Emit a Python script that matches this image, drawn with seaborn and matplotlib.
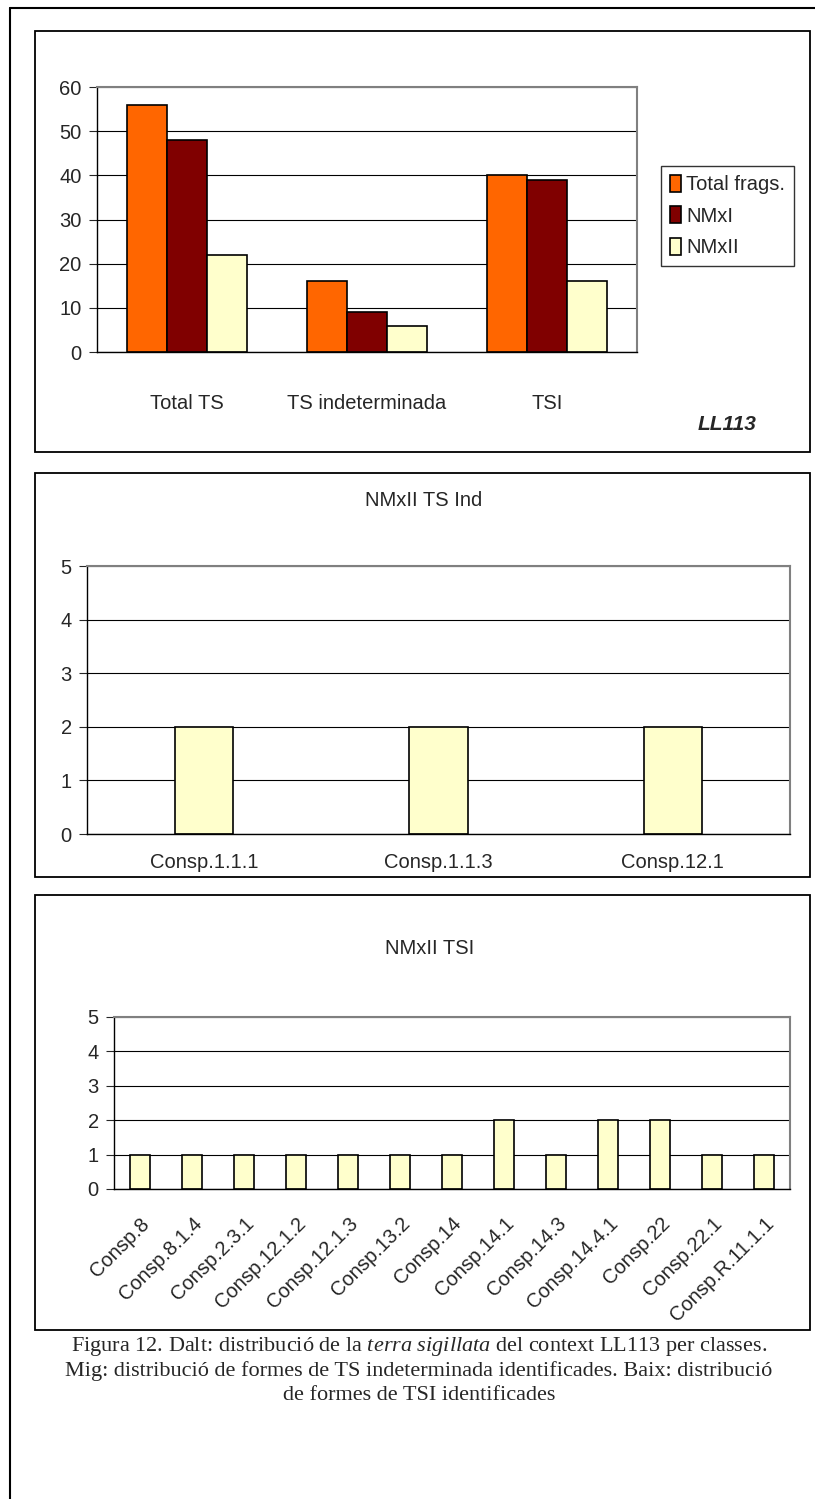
import matplotlib
matplotlib.use("Agg")
import matplotlib.pyplot as plt
from matplotlib.patches import Rectangle, Patch
from matplotlib.lines import Line2D
import pandas as pd
import seaborn as sns

# data
classes = ["Total TS", "TS indeterminada", "TSI"]
series = ["Total frags.", "NMxI", "NMxII"]
total_frags = [56, 16, 40]
nmx1 = [48, 9, 39]
nmx2 = [22, 6, 16]

ind_forms = ["Consp.1.1.1", "Consp.1.1.3", "Consp.12.1"]
ind_nmx2 = [2, 2, 2]

tsi_forms = ["Consp.8", "Consp.8.1.4", "Consp.2.3.1", "Consp.12.1.2", "Consp.12.1.3",
             "Consp.13.2", "Consp.14", "Consp.14.1", "Consp.14.3", "Consp.14.4.1",
             "Consp.22", "Consp.22.1", "Consp.R.11.1.1"]
tsi_nmx2 = [1, 1, 1, 1, 1, 1, 1, 2, 1, 2, 2, 1, 1]

colors = ["#FF6600", "#800000", "#FFFFCC"]

sns.set_style("white")
plt.rcParams["font.family"] = ["Liberation Sans", "DejaVu Sans"]
plt.rcParams["mathtext.fontset"] = "custom"
plt.rcParams["mathtext.rm"] = "Liberation Serif"
plt.rcParams["mathtext.it"] = "Liberation Serif:italic"

FS = 14.5

W, H = 815, 1499
fig = plt.figure(figsize=(W / 100, H / 100), dpi=100)


def px_axes(left, top, right, bottom):
    return fig.add_axes([left / W, 1 - bottom / H, (right - left) / W, (bottom - top) / H])


def panel_box(left, top, right, bottom):
    fig.add_artist(Rectangle((left / W, 1 - bottom / H), (right - left) / W, (bottom - top) / H,
                             transform=fig.transFigure, fill=False, ec="black", lw=1.3))


def excel_style(ax, n, ymax, step):
    ax.set_xlim(-0.5, n - 0.5)
    ax.set_ylim(0, ymax)
    ax.set_yticks(range(0, ymax + 1, step))
    ax.yaxis.grid(True, color="black", lw=0.8)
    ax.set_axisbelow(True)
    for s in ["left", "bottom"]:
        ax.spines[s].set_color("black")
        ax.spines[s].set_linewidth(1.0)
    for s in ["top", "right"]:
        ax.spines[s].set_color("#808080")
        ax.spines[s].set_linewidth(1.5)
    ax.set_xticks([i - 0.5 for i in range(n + 1)], minor=True)
    ax.tick_params(axis="x", which="major", length=0, pad=12, labelsize=FS)
    ax.tick_params(axis="x", which="minor", length=6, width=0.8, direction="out", color="black")
    ax.tick_params(axis="y", length=6, width=0.8, direction="out", labelsize=FS, pad=5, left=True)
    ax.set_xlabel("")
    ax.set_ylabel("")


# outer frame
fig.add_artist(Line2D([10 / W, 10 / W], [0, 1 - 8 / H], transform=fig.transFigure, color="black", lw=1.5))
fig.add_artist(Line2D([10 / W, 1], [1 - 8 / H, 1 - 8 / H], transform=fig.transFigure, color="black", lw=1.5))

# panel 1
panel_box(35, 31, 810, 452)
ax1 = px_axes(97, 87, 637, 352)
df1 = pd.DataFrame({
    "classe": classes * 3,
    "serie": [s for s in series for _ in classes],
    "valor": total_frags + nmx1 + nmx2,
})
sns.barplot(data=df1, x="classe", y="valor", hue="serie", palette=colors, saturation=1,
            width=0.667, edgecolor="black", linewidth=1.2, ax=ax1, legend=False)
excel_style(ax1, 3, 60, 10)
ax1.tick_params(axis="x", which="major", pad=30)
handles = [Patch(facecolor=c, edgecolor="black", lw=1.2) for c in colors]
fig.legend(handles, series, loc="upper left", bbox_to_anchor=(661 / W, 1 - 166 / H),
           frameon=True, fancybox=False, edgecolor="black", fontsize=FS,
           handlelength=0.55, handleheight=0.9, handletextpad=0.25, labelspacing=0.6,
           borderpad=0.45, borderaxespad=0)
fig.text(757 / W, 1 - 425 / H, "LL113", fontsize=15, fontweight="bold", style="italic",
         ha="right", va="center")

# panel 2
panel_box(35, 473, 810, 877)
ax2 = px_axes(87, 566, 790, 834)
sns.barplot(x=ind_forms, y=ind_nmx2, color=colors[2], saturation=1, width=0.25,
            edgecolor="black", linewidth=1.2, ax=ax2)
excel_style(ax2, 3, 5, 1)
ax2.tick_params(axis="x", which="major", pad=14)
fig.text(424 / W, 1 - 501 / H, "NMxII TS Ind", fontsize=FS, ha="center", va="center")

# panel 3
panel_box(35, 895, 810, 1330)
ax3 = px_axes(114, 1017, 790, 1189)
sns.barplot(x=tsi_forms, y=tsi_nmx2, color=colors[2], saturation=1, width=0.4,
            edgecolor="black", linewidth=1.2, ax=ax3)
excel_style(ax3, len(tsi_forms), 5, 1)
ax3.tick_params(axis="x", which="major", pad=18)
for lab in ax3.get_xticklabels():
    lab.set_rotation(45)
    lab.set_ha("right")
    lab.set_rotation_mode("anchor")
fig.text(430 / W, 1 - 949 / H, "NMxII TSI", fontsize=FS, ha="center", va="center")

# caption
cap_font = dict(family=["Liberation Serif", "DejaVu Serif"], fontsize=16, ha="center", va="center")
fig.text(419 / W, 1 - 1346 / H,
         r"Figura 12. Dalt: distribució de la $\mathit{terra\ sigillata}$ del context LL113 per classes.",
         **cap_font)
fig.text(419 / W, 1 - 1371 / H,
         "Mig: distribució de formes de TS indeterminada identificades. Baix: distribució", **cap_font)
fig.text(419 / W, 1 - 1396 / H, "de formes de TSI identificades", **cap_font)

fig.savefig("out.png", dpi=100)
